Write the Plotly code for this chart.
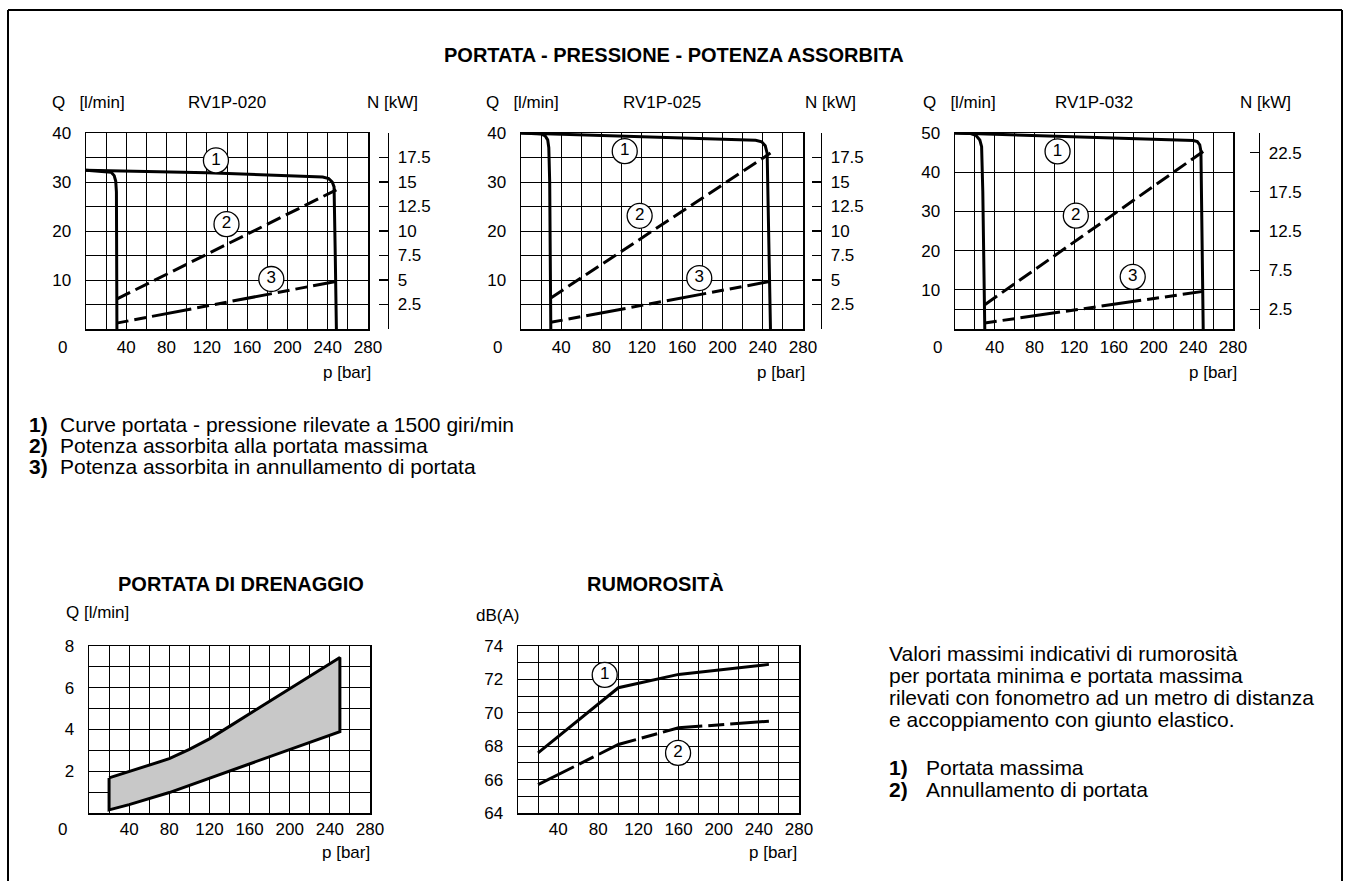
import plotly.graph_objects as go

W, H = 1348, 881
FONT = "Liberation Sans, Arial, sans-serif"
FS = 17       # axis / header text
FT = 20       # bold titles
FD = 21       # descriptive text

# ---------------- data ----------------
p_ticks = [40, 80, 120, 160, 200, 240, 280]

# RV1P-020  (Q in l/min, N in kW)
p020_hi = [0, 120, 235, 241, 244.5, 246.3, 247.5, 248.6]
q020_hi = [32.4, 31.9, 31.0, 30.7, 30.0, 29.0, 15, 0]
p020_lo = [0, 20, 25, 28, 29.5, 30.2, 30.7]
q020_lo = [32.4, 32.2, 32.0, 31.3, 30.2, 28, 0]
p020_nmax = [30.4, 248.6]
n020_nmax = [3.05, 14.2]
p020_nzero = [30.4, 248.0]
n020_nzero = [0.6, 4.85]
lbl020_p = [129, 139.5, 184]
lbl020_q = [34.4, 21.4, 10.2]

# RV1P-025
p025_hi = [0, 120, 233, 239, 242.5, 244.4, 246, 247.7]
q025_hi = [40, 39.3, 38.5, 38.2, 37.4, 35.9, 18, 0]
p025_lo = [0, 20, 24, 26.5, 27.6, 28.5, 29.6]
q025_lo = [40, 39.8, 39.4, 38.6, 37.0, 30, 0]
p025_nmax = [29.6, 247.7]
n025_nmax = [3.17, 17.95]
p025_nzero = [29.6, 247.7]
n025_nzero = [0.68, 4.86]
lbl025_p = [103, 117.8, 177]
lbl025_q = [36.3, 23.1, 10.4]

# RV1P-032
p032_hi = [0, 120, 240, 244, 246.5, 247.7, 248.8, 250]
q032_hi = [50, 49.1, 48.1, 47.8, 47.0, 45.3, 22, 0]
p032_lo = [0, 15, 21, 25, 26.8, 28, 30]
q032_lo = [50, 49.9, 49.4, 48.2, 46.5, 35, 0]
p032_nmax = [30, 250]
n032_nmax = [3.1, 22.65]
p032_nzero = [30, 250]
n032_nzero = [0.77, 4.8]
lbl032_p = [103.3, 121.7, 179]
lbl032_q = [45.3, 28.9, 13.3]

lbl_txt = ["1", "2", "3"]

# Drainage flow
drain_p_up = [20, 40, 60, 80, 100, 120, 140, 160, 200, 250]
drain_q_up = [1.68, 1.98, 2.3, 2.6, 3.05, 3.55, 4.15, 4.75, 5.98, 7.45]
drain_p_lo = [20, 40, 80, 120, 140, 200, 250]
drain_q_lo = [0.15, 0.4, 0.98, 1.65, 2.02, 3.03, 3.9]

# Noise
noise_p = [20, 100, 160, 250]
noise_max = [67.6, 71.5, 72.3, 72.9]
noise_zero = [65.7, 68.1, 69.1, 69.5]
noise_lbl_p = [86.4, 159.5]
noise_lbl_db = [72.27, 67.6]


def px(x):
    return x / W


def py(y):
    return 1 - y / H


fig = go.Figure()
BLACK = "black"
LW = 3
DASH2 = "15px,6px"
DASH3 = "12px,6px,12px,6px,40px,6px"


def add_line(x, y, xa, ya, dash="solid"):
    fig.add_trace(go.Scatter(x=x, y=y, mode="lines", xaxis=xa, yaxis=ya,
                             line=dict(color=BLACK, width=LW, dash=dash),
                             hoverinfo="skip"))


def add_labels(x, y, txt, xa, ya):
    fig.add_trace(go.Scatter(x=x, y=y, mode="markers+text", xaxis=xa, yaxis=ya,
                             text=txt, textposition="middle center",
                             textfont=dict(family=FONT, size=FS, color=BLACK),
                             marker=dict(symbol="circle", size=25, color="white",
                                         line=dict(color=BLACK, width=1.3)),
                             hoverinfo="skip"))


charts = [
    ("x", "y", "y2", p020_hi, q020_hi, p020_lo, q020_lo, p020_nmax, n020_nmax,
     p020_nzero, n020_nzero, lbl020_p, lbl020_q),
    ("x2", "y3", "y4", p025_hi, q025_hi, p025_lo, q025_lo, p025_nmax, n025_nmax,
     p025_nzero, n025_nzero, lbl025_p, lbl025_q),
    ("x3", "y5", "y6", p032_hi, q032_hi, p032_lo, q032_lo, p032_nmax, n032_nmax,
     p032_nzero, n032_nzero, lbl032_p, lbl032_q),
]
for (xa, ya, na, ph, qh, pl, ql, pm, nm, pz, nz, lp, lq) in charts:
    add_line(ph, qh, xa, ya)
    add_line(pl, ql, xa, ya)
    add_line(pm, nm, xa, na, DASH2)
    add_line(pz, nz, xa, na, DASH3)
    add_labels(lp, lq, lbl_txt, xa, ya)

# drainage polygon
poly_p = drain_p_up + drain_p_lo[::-1] + [drain_p_up[0]]
poly_q = drain_q_up + drain_q_lo[::-1] + [drain_q_up[0]]
fig.add_trace(go.Scatter(x=poly_p, y=poly_q, mode="lines", xaxis="x4", yaxis="y7",
                         fill="toself", fillcolor="#c8c8c8",
                         line=dict(color=BLACK, width=LW), hoverinfo="skip"))

# noise
add_line(noise_p, noise_max, "x5", "y8")
add_line(noise_p, noise_zero, "x5", "y8", "40px,6px,16px,6px")
add_labels(noise_lbl_p, noise_lbl_db, ["1", "2"], "x5", "y8")

# ---------------- axes ----------------
tickfont = dict(family=FONT, size=FS, color=BLACK)


def xaxis(dom, anchor, standoff):
    return dict(domain=[px(dom[0]), px(dom[1])], anchor=anchor, range=[0, 280],
                tickmode="array", tickvals=p_ticks, automargin=False,
                ticks="", tickfont=tickfont, ticklabelstandoff=standoff,
                showgrid=True, gridcolor=BLACK, gridwidth=1,
                minor=dict(dtick=20, tick0=0, showgrid=True, gridcolor=BLACK, gridwidth=1),
                showline=True, linecolor=BLACK, linewidth=1.5, mirror=True,
                zeroline=False, fixedrange=True)


def yaxis(dom, anchor, rng, tv, minor):
    return dict(domain=[py(dom[1]), py(dom[0])], anchor=anchor, range=rng,
                tickmode="array", tickvals=tv, ticks="", tickfont=tickfont,
                ticklabelstandoff=10, automargin=False,
                showgrid=True, gridcolor=BLACK, gridwidth=1,
                minor=dict(tickmode="array", tickvals=minor, showgrid=True,
                           gridcolor=BLACK, gridwidth=1),
                showline=True, linecolor=BLACK, linewidth=1.5, mirror=True,
                zeroline=False, fixedrange=True)


def naxis(over, pos, rng, tv, tt):
    return dict(overlaying=over, anchor="free", position=px(pos), side="right",
                range=rng, tickmode="array", tickvals=tv, ticktext=tt,
                ticks="inside", ticklen=9, tickcolor=BLACK, tickwidth=1.3,
                tickfont=tickfont, ticklabelstandoff=5, automargin=False,
                showgrid=False, zeroline=False,
                showline=True, linecolor=BLACK, linewidth=1.3, fixedrange=True)


TOP, BOT = 133, 329
n20_vals = [0, 2.5, 5, 7.5, 10, 12.5, 15, 17.5, 20]
n20_txt = ["", "2.5", "5", "7.5", "10", "12.5", "15", "17.5", ""]
n25_vals = [0, 2.5, 7.5, 12.5, 17.5, 22.5, 25]
n25_txt = ["", "2.5", "7.5", "12.5", "17.5", "22.5", ""]

fig.update_layout(
    xaxis=xaxis((86, 368), "y", 2),
    yaxis=yaxis((TOP, BOT), "x", [0, 40], [10, 20, 30, 40], [5, 15, 25, 35]),
    yaxis2=naxis("y", 388, [0, 20], n20_vals, n20_txt),
    xaxis2=xaxis((521, 803), "y3", 2),
    yaxis3=yaxis((TOP, BOT), "x2", [0, 40], [10, 20, 30, 40], [5, 15, 25, 35]),
    yaxis4=naxis("y3", 821, [0, 20], n20_vals, n20_txt),
    xaxis3=xaxis((955, 1233), "y5", 2),
    yaxis5=yaxis((TOP, BOT), "x3", [0, 50], [10, 20, 30, 40, 50], [5]),
    yaxis6=naxis("y5", 1259, [0, 25], n25_vals, n25_txt),
    xaxis4=xaxis((89, 370), "y7", 0),
    yaxis7=yaxis((646, 813), "x4", [0, 8], [2, 4, 6, 8], [1, 3, 5, 7]),
    xaxis5=xaxis((518, 799), "y8", 0),
    yaxis8=yaxis((646, 813), "x5", [64, 74], [64, 66, 68, 70, 72, 74],
                 [65, 67, 69, 71, 73]),
)

# ---------------- texts ----------------
ann = []


def text(x, y, s, anchor="left", size=FS, bold=False):
    if bold:
        s = "<b>" + s + "</b>"
    ann.append(dict(x=px(x), y=py(y), xref="paper", yref="paper", text=s,
                    showarrow=False, xanchor=anchor, yanchor="middle",
                    font=dict(family=FONT, size=size, color=BLACK)))


text(674, 55, "PORTATA - PRESSIONE - POTENZA ASSORBITA", "center", FT, True)

heads = [(50, 227, 365, 63, 373, "RV1P-020"),
         (484, 662, 803, 497, 807, "RV1P-025"),
         (921, 1094, 1238, 937, 1239, "RV1P-032")]
for qx, cx, nx, zx, bx, name in heads:
    text(qx, 103, "Q   [l/min]")
    text(cx, 103, name, "center")
    text(nx, 103, "N [kW]")
    text(zx, 347, "0", "center")
    text(bx, 372, "p [bar]", "right")

notes = ["Curve portata - pressione rilevate a 1500 giri/min",
         "Potenza assorbita alla portata massima",
         "Potenza assorbita in annullamento di portata"]
for i, s in enumerate(notes):
    text(27, 424 + 21.5 * i, f"{i + 1})", size=FD, bold=True)
    text(58, 424 + 21.5 * i, s, size=FD)

text(241, 584, "PORTATA DI DRENAGGIO", "center", FT, True)
text(64, 612, "Q [l/min]")
text(63, 829, "0", "center")
text(372, 852, "p [bar]", "right")

text(655, 584, "RUMOROSITÀ", "center", FT, True)
text(474, 615, "dB(A)")
text(799, 852, "p [bar]", "right")

desc = ["Valori massimi indicativi di rumorosità",
        "per portata minima e portata massima",
        "rilevati con fonometro ad un metro di distanza",
        "e accoppiamento con giunto elastico."]
for i, s in enumerate(desc):
    text(887, 653 + 22.3 * i, s, size=FD)
text(887, 767, "1)", size=FD, bold=True)
text(924, 767, "Portata massima", size=FD)
text(887, 789, "2)", size=FD, bold=True)
text(924, 789, "Annullamento di portata", size=FD)

shapes = [
    dict(type="line", xref="paper", yref="paper", x0=px(8), x1=px(1342), y0=py(10), y1=py(10),
         line=dict(color=BLACK, width=2)),
    dict(type="line", xref="paper", yref="paper", x0=px(8), x1=px(8), y0=py(10), y1=0,
         line=dict(color=BLACK, width=2)),
    dict(type="line", xref="paper", yref="paper", x0=px(1342), x1=px(1342), y0=py(10), y1=0,
         line=dict(color=BLACK, width=2)),
]

fig.update_layout(width=W, height=H, margin=dict(l=0, r=0, t=0, b=0, autoexpand=False),
                  paper_bgcolor="white", plot_bgcolor="white", showlegend=False,
                  annotations=ann, shapes=shapes,
                  font=dict(family=FONT, size=FS, color=BLACK))

fig.write_html("out.html",
               config={"displayModeBar": False, "staticPlot": True},
               post_script="document.body.style.margin='0';"
                           "document.body.style.overflow='hidden';")
